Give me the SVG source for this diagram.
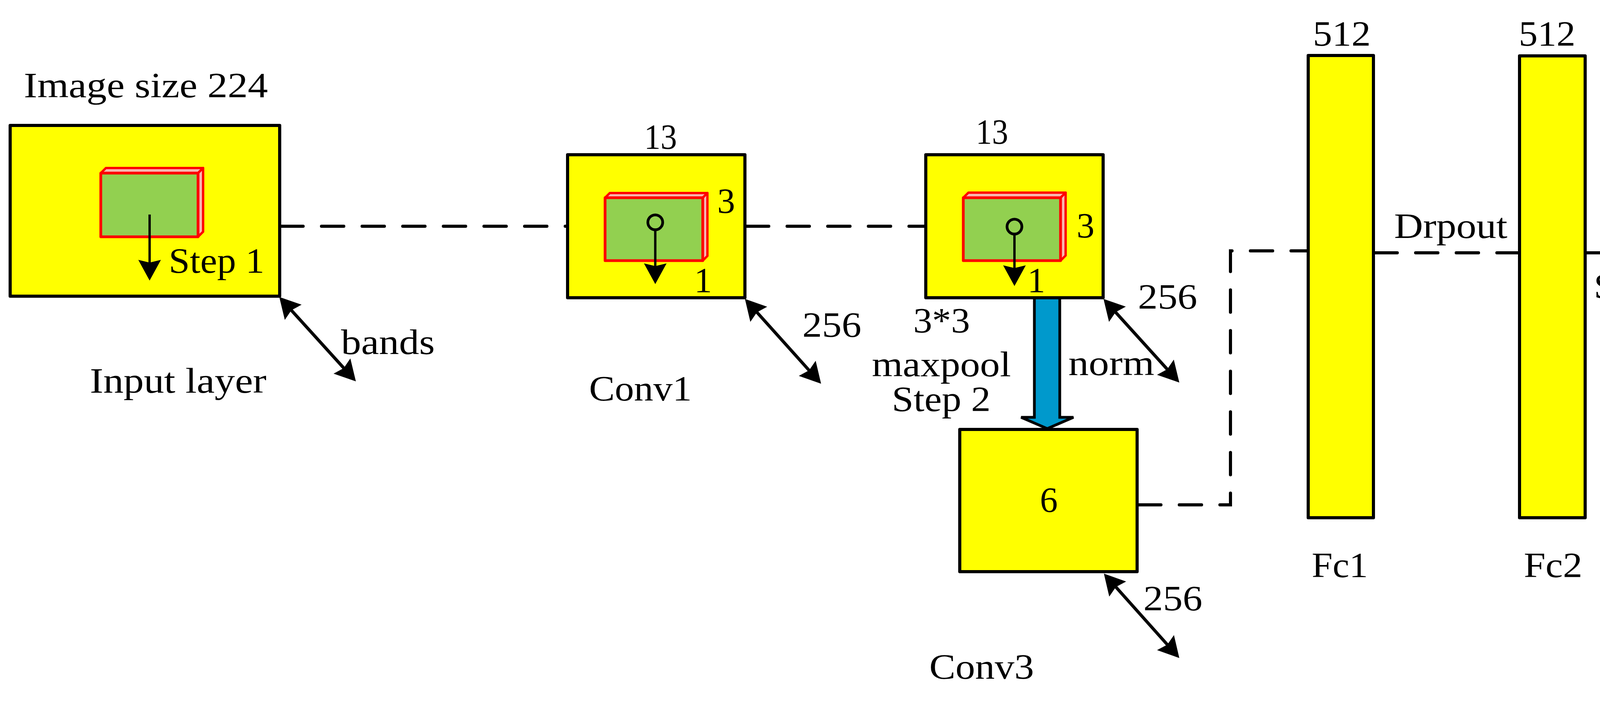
<svg xmlns="http://www.w3.org/2000/svg" width="4704" height="1794" viewBox="0 0 4704 1794">
<style>
.t{font-family:"Liberation Serif","Times New Roman",serif;font-size:91px;fill:#000}
.m{text-anchor:middle}
.box{fill:#FFFF00;stroke:#000;stroke-width:8;stroke-linejoin:round}
.front{fill:#92D050;stroke:#FF0000;stroke-width:7;stroke-linejoin:round}
.face{fill:#F7B6B0;stroke:#FF0000;stroke-width:6;stroke-linejoin:round}
.dash{fill:none;stroke:#000;stroke-width:8;stroke-dasharray:57 47;stroke-linecap:round}
.dbl{fill:none;stroke:#000;stroke-width:8;marker-start:url(#ah);marker-end:url(#ah)}
.down{fill:none;stroke:#000;stroke-width:6;marker-end:url(#ah)}
.pin{fill:#92D050;stroke:#000;stroke-width:7}
</style>
<defs>
<marker id="ah" viewBox="-40 -32 64 64" markerWidth="64" markerHeight="64" refX="0" refY="0" markerUnits="userSpaceOnUse" orient="auto-start-reverse">
<path d="M20,0 L-33,-29 L-26,0 L-33,29 Z" fill="#000"/>
</marker>
</defs>
<rect width="4704" height="1794" fill="#fff"/>

<g id="connectors">
<line class="dash" x1="719" y1="579" x2="1449" y2="579"/>
<line class="dash" x1="1911" y1="579" x2="2366" y2="579"/>
<path class="dash" d="M2915,1292 H3150 V642 H3345"/>
<line class="dash" x1="3520" y1="647" x2="3886" y2="647"/>
<line class="dash" x1="4062" y1="647" x2="4436" y2="647"/>
<path d="M2648,762 V1068 H2614 L2681,1097 L2748,1068 H2713 V762 Z" fill="#0099CC" stroke="#000" stroke-width="7" stroke-linejoin="miter"/>
<line class="dbl" x1="728.4" y1="774.8" x2="897.6" y2="961.2"/>
<line class="dbl" x1="1920.4" y1="779.9" x2="2088.6" y2="967.1"/>
<line class="dbl" x1="2838.4" y1="779.8" x2="3005.6" y2="964.2"/>
<line class="dbl" x1="2839.3" y1="1482.9" x2="3005.7" y2="1669.1"/>
</g>

<g id="input-layer">
<text class="t" x="61" y="249" textLength="625" lengthAdjust="spacingAndGlyphs">Image size 224</text>
<rect class="box" x="26" y="321" width="690" height="437"/>
<polygon class="face" points="258,443 271,430 520,430 507,443"/>
<polygon class="face" points="507,443 520,430 520,593 507,606"/>
<rect class="front" x="258" y="443" width="249" height="163"/>
<line class="down" x1="383" y1="549" x2="383" y2="698"/>
<text class="t" x="432" y="698" textLength="245" lengthAdjust="spacingAndGlyphs">Step 1</text>
<text class="t" x="873" y="906" textLength="240" lengthAdjust="spacingAndGlyphs">bands</text>
<text class="t" x="230" y="1005" textLength="452" lengthAdjust="spacingAndGlyphs">Input layer</text>
</g>

<g id="conv1">
<text class="t" x="1649" y="381" textLength="84" lengthAdjust="spacingAndGlyphs">13</text>
<rect class="box" x="1453" y="396" width="454" height="366"/>
<polygon class="face" points="1549,506 1561,494 1811,494 1799,506"/>
<polygon class="face" points="1799,506 1811,494 1811,655 1799,667"/>
<rect class="front" x="1549" y="506" width="250" height="161"/>
<line class="down" x1="1677.5" y1="588" x2="1677.5" y2="707"/>
<circle class="pin" cx="1677.5" cy="569" r="19"/>
<text class="t m" x="1859" y="545">3</text>
<text class="t m" x="1800" y="748">1</text>
<text class="t" x="2054" y="862" textLength="151" lengthAdjust="spacingAndGlyphs">256</text>
<text class="t" x="1508" y="1025" textLength="263" lengthAdjust="spacingAndGlyphs">Conv1</text>
</g>

<g id="conv2">
<text class="t" x="2498" y="368" textLength="83" lengthAdjust="spacingAndGlyphs">13</text>
<rect class="box" x="2370" y="396" width="454" height="366"/>
<polygon class="face" points="2466,506 2479,493 2728,493 2715,506"/>
<polygon class="face" points="2715,506 2728,493 2728,654 2715,667"/>
<rect class="front" x="2466" y="506" width="249" height="161"/>
<line class="down" x1="2597" y1="599" x2="2597" y2="712"/>
<circle class="pin" cx="2597" cy="580" r="19"/>
<text class="t m" x="2779" y="608">3</text>
<text class="t m" x="2653" y="748">1</text>
<text class="t" x="2913" y="790" textLength="152" lengthAdjust="spacingAndGlyphs">256</text>
<text class="t" x="2338" y="851" textLength="145" lengthAdjust="spacingAndGlyphs">3*3</text>
<text class="t" x="2232" y="963" textLength="356" lengthAdjust="spacingAndGlyphs">maxpool</text>
<text class="t" x="2283" y="1052" textLength="253" lengthAdjust="spacingAndGlyphs">Step 2</text>
<text class="t" x="2735" y="960" textLength="220" lengthAdjust="spacingAndGlyphs">norm</text>
</g>

<g id="conv3">
<rect class="box" x="2457" y="1099" width="454" height="364"/>
<text class="t m" x="2685" y="1310">6</text>
<text class="t" x="2927" y="1562" textLength="151" lengthAdjust="spacingAndGlyphs">256</text>
<text class="t" x="2379" y="1737" textLength="268" lengthAdjust="spacingAndGlyphs">Conv3</text>
</g>

<g id="fc1">
<text class="t" x="3361" y="117" textLength="148" lengthAdjust="spacingAndGlyphs">512</text>
<rect class="box" x="3349" y="142" width="167" height="1183"/>
<text class="t" x="3569" y="609" textLength="290" lengthAdjust="spacingAndGlyphs">Drpout</text>
<text class="t" x="3358" y="1477" textLength="144" lengthAdjust="spacingAndGlyphs">Fc1</text>
</g>

<g id="fc2">
<text class="t" x="3888" y="117" textLength="145" lengthAdjust="spacingAndGlyphs">512</text>
<rect class="box" x="3890" y="143" width="168" height="1182"/>
<text class="t" x="4111" y="600" textLength="290" lengthAdjust="spacingAndGlyphs">Drpout</text>
<text class="t" x="4080" y="763" textLength="355" lengthAdjust="spacingAndGlyphs">SoftMax</text>
<text class="t" x="3901" y="1477" textLength="150" lengthAdjust="spacingAndGlyphs">Fc2</text>
</g>

<g id="output-layer">
<text class="t m" x="4526" y="250">6</text>
<rect class="box" x="4440" y="262" width="168" height="768"/>
<text class="t" x="4387" y="1420" textLength="283" lengthAdjust="spacingAndGlyphs">Output</text>
<text class="t" x="4425" y="1530" textLength="204" lengthAdjust="spacingAndGlyphs">layer</text>
</g>
</svg>
